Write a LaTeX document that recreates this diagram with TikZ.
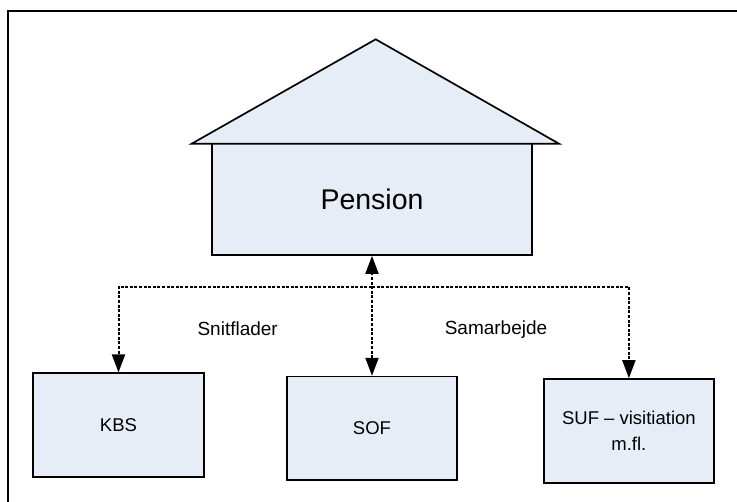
\documentclass[tikz,border=0pt]{standalone}
\usepackage{fontspec}
\setmainfont{Liberation Sans}
\usetikzlibrary{arrows.meta}
\definecolor{boxfill}{RGB}{231,237,247}
\begin{document}
\begin{tikzpicture}[x=1pt,y=-1pt,
  boxstyle/.style={draw=black,line width=1.7pt,fill=boxfill,inner sep=0pt,align=center,font=\fontsize{18.5}{26}\selectfont},
  linkstyle/.style={line width=2pt,dash pattern=on 3pt off 1.6pt,-{Triangle[length=18pt,width=13pt]}},
  labelstyle/.style={font=\fontsize{19}{23}\selectfont,inner sep=0pt}]
\useasboundingbox (0,0) rectangle (737,502);
% frame
\draw[line width=1.8pt] (8,503) -- (8,11) -- (738,11);
% house
\node[boxstyle,minimum width=319.4pt,minimum height=112pt,font=\fontsize{28.5}{34}\selectfont] (pension) at (372,199) {Pension};
\coordinate (roofL) at (191.7,143.7);
\coordinate (roofT) at (375.7,39.3);
\coordinate (roofR) at (559,143.7);
\draw[line width=1.7pt,fill=boxfill,line join=miter] (roofL) -- (roofT) -- (roofR) -- cycle;
% boxes
\node[boxstyle,minimum width=170.4pt,minimum height=103.4pt] (kbs) at (118.5,425) {KBS};
\node[boxstyle,minimum width=170.6pt,minimum height=103.3pt] (sof) at (372,428.3) {SOF};
\node[boxstyle,minimum width=170.3pt,minimum height=104.3pt] (suf) at (628.9,431.2) {SUF -- visitiation\\m.fl.};
% connectors
\coordinate (hub) at (372,286.7);
\draw[linkstyle] (hub) -| (kbs.north);
\draw[linkstyle] (hub) -| (suf.north);
\draw[linkstyle,{Triangle[length=18pt,width=13pt]}-{Triangle[length=18pt,width=13pt]}] (sof.north) -- (pension.south);
% labels
\node[labelstyle] (snit) at (237.7,328.3) {Snitflader};
\node[labelstyle] (samar) at (496,330) {Samarbejde};
\end{tikzpicture}
\end{document}
